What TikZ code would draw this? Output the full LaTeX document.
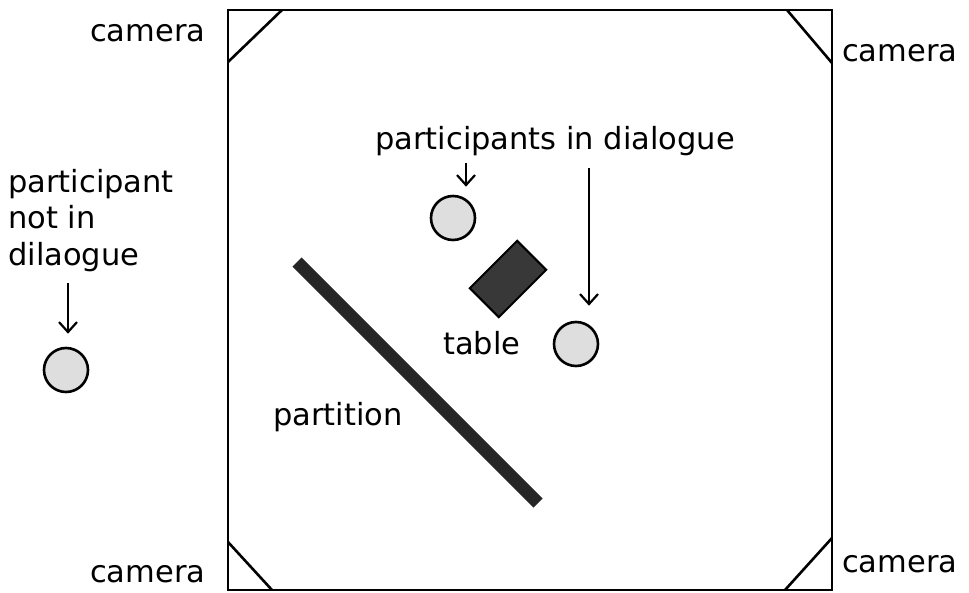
\documentclass[tikz,border=0pt]{standalone}
\usepackage{fontspec}
\setmainfont{DejaVu Sans}
\usetikzlibrary{arrows.meta}
\begin{document}
\begin{tikzpicture}[x=1pt,y=-1pt,
  lbl/.style={inner sep=0pt, anchor=base west, font=\fontsize{30.5}{36.5}\selectfont},
  person/.style={circle, draw=black, line width=2.6pt, fill=black!13, minimum size=44pt, inner sep=0pt},
  ptr/.style={line width=2.2pt, -{Straight Barb[length=10pt,width=18pt,line width=2.2pt]}},
  wall/.style={line width=2.6pt},
]
\useasboundingbox (0,0) rectangle (969,593);

% room outline and the four camera corners
\draw[wall] (228,10) rectangle (832,590);
\draw[wall] (228,62) -- (282,10);
\draw[wall] (787,10) -- (832,63);
\draw[wall] (228,542) -- (272,590);
\draw[wall] (785,590) -- (832,538);

\node[lbl] (camtl) at (90,42) {camera};
\node[lbl] (camtr) at (842,62) {camera};
\node[lbl] (cambl) at (90,582) {camera};
\node[lbl] (cambr) at (842,572) {camera};

% partition
\draw[line width=13pt, black!85] (297,262) -- (538,503);
\node[lbl] (partlbl) at (273,425) {partition};

% table
\node[draw=black, line width=2pt, fill=black!78, minimum width=67pt, minimum height=41pt,
      inner sep=0pt, rotate=45] (table) at (508,279) {};
\node[lbl] (tablelbl) at (443,355) {table};

% people
\node[person] (p0) at (66,370) {};
\node[person] (p1) at (453,218) {};
\node[person] (p2) at (576,344) {};

\node[lbl] (dialbl) at (375,150) {participants in dialogue};
\node[inner sep=0pt, anchor=north west, align=left, font=\fontsize{30.5}{36.5}\selectfont]
  (outlbl) at (8,169) {participant\\not in\\dilaogue};

% pointers
\coordinate (s1) at (466,163);
\coordinate (l1) at (589,168);
\coordinate (n1) at (68,283);
\draw[ptr, shorten >=8pt] (s1) -- (s1 |- p1.north);
\draw[ptr, shorten >=15pt] (l1) -- (l1 |- p2.north);
\draw[ptr, shorten >=13pt] (n1) -- (n1 |- p0.north);
\end{tikzpicture}
\end{document}
